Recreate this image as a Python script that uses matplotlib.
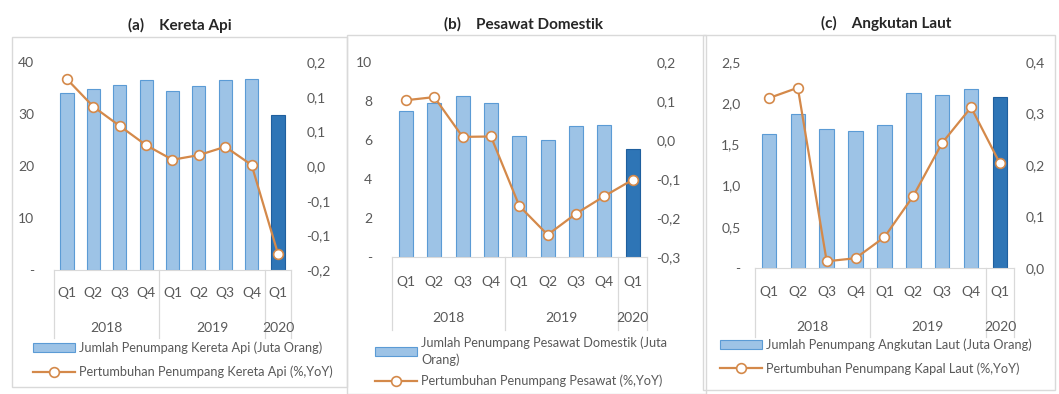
#!/usr/bin/env python
# coding: utf-8
'''
Jumlah dan pertumbuhan penumpang: kereta api, pesawat domestik, angkutan laut
'''

import numpy as np
import matplotlib
matplotlib.use('Agg')
import matplotlib.pyplot as plt
from matplotlib.patches import Rectangle
from matplotlib.ticker import FuncFormatter

#    data
quarters = ['Q1', 'Q2', 'Q3', 'Q4', 'Q1', 'Q2', 'Q3', 'Q4', 'Q1']
years = ['2018', '2019', '2020']
year_centers = [1.5, 5.5, 8.0]
year_breaks = [-0.5, 3.5, 7.5, 8.5]

kereta_penumpang = [34.1, 34.9, 35.6, 36.5, 34.5, 35.4, 36.5, 36.7, 29.9]
kereta_tumbuh = [0.167, 0.114, 0.077, 0.040, 0.012, 0.021, 0.037, 0.002, -0.169]

pesawat_penumpang = [7.47, 7.9, 8.24, 7.9, 6.2, 6.02, 6.7, 6.75, 5.56]
pesawat_tumbuh = [0.102, 0.110, 0.008, 0.009, -0.169, -0.243, -0.189, -0.144, -0.102]

laut_penumpang = [1.63, 1.87, 1.69, 1.66, 1.73, 2.12, 2.10, 2.17, 2.08]
laut_tumbuh = [0.330, 0.350, 0.013, 0.019, 0.060, 0.140, 0.243, 0.312, 0.203]

W, H = 1059, 394
GRAY = '#595959'
LIGHT = '#d9d9d9'
BLUE = '#9dc3e6'
BLUE_EDGE = '#5b9bd5'
DARK = '#2e75b6'
ORANGE = '#d4894a'

plt.rcParams['font.family'] = ['Lato', 'DejaVu Sans']


def fmt_right(v, pos):
    s = '{:.1f}'.format(v + 0.0)
    if s == '-0.0':
        s = '0.0'
    return s.replace('.', ',')


def px_axes(fig, left, right, top, bottom):
    return fig.add_axes([left / W, 1 - bottom / H, (right - left) / W, (bottom - top) / H])


def panel(fig, box, frame, title, title_xy, values, growth, ylim, yticks, left_fmt,
          rlim, rticks, pads, offs, legend_xy, labels, spacing):
    left, right, top, bottom = box
    ax = px_axes(fig, left, right, top, bottom)
    h = bottom - top

    #    outer frame of the panel
    fx0, fx1, fy0, fy1 = frame
    fig.patches.append(Rectangle((fx0 / W, 1 - fy1 / H), (fx1 - fx0) / W, (fy1 - fy0) / H,
                                 transform=fig.transFigure, fill=False,
                                 edgecolor=LIGHT, linewidth=1.0))
    fig.text(title_xy[0] / W, 1 - title_xy[1] / H, title, ha='center', va='center',
             fontsize=11, fontweight='bold', color='#262626')

    x = np.arange(len(values))
    colors = [BLUE] * (len(values) - 1) + [DARK]
    edges = [BLUE_EDGE] * (len(values) - 1) + ['#1f5f9e']
    bars = ax.bar(x, values, width=0.5, color=colors, edgecolor=edges, linewidth=0.8, zorder=2)

    ax.set_xlim(-0.5, len(values) - 0.5)
    ax.set_ylim(*ylim)
    ax.set_yticks(yticks)
    ax.yaxis.set_major_formatter(FuncFormatter(left_fmt))
    ax.set_xticks([])
    for s in ['top', 'right', 'left']:
        ax.spines[s].set_visible(False)
    ax.spines['bottom'].set_color(LIGHT)
    ax.tick_params(axis='y', length=0, labelsize=10, labelcolor=GRAY, pad=pads[0])

    #    multi level category axis
    q_off, y_off, line_off = offs
    for i, q in enumerate(quarters):
        ax.annotate(q, xy=(i, 0), xycoords=('data', 'axes fraction'), xytext=(0, -q_off),
                    textcoords='offset pixels', ha='center', va='center',
                    fontsize=10, color=GRAY)
    for yc, yr in zip(year_centers, years):
        ax.annotate(yr, xy=(yc, 0), xycoords=('data', 'axes fraction'), xytext=(0, -y_off),
                    textcoords='offset pixels', ha='center', va='center',
                    fontsize=10, color=GRAY)
    for xb in year_breaks:
        ax.plot([xb, xb], [0, -line_off / h], transform=ax.get_xaxis_transform(),
                color=LIGHT, linewidth=0.9, clip_on=False)

    ax2 = ax.twinx()
    line, = ax2.plot(x, growth, color=ORANGE, linewidth=1.6, marker='o', markersize=7,
                     markerfacecolor='white', markeredgecolor=ORANGE, markeredgewidth=1.2,
                     zorder=3)
    ax2.set_ylim(*rlim)
    ax2.set_yticks(rticks)
    ax2.yaxis.set_major_formatter(FuncFormatter(fmt_right))
    for s in ax2.spines.values():
        s.set_visible(False)
    ax2.tick_params(axis='y', length=0, labelsize=10, labelcolor=GRAY, pad=pads[1])

    leg = fig.legend([bars, line], labels, loc='upper left',
                     bbox_to_anchor=(legend_xy[0] / W, 1 - legend_xy[1] / H),
                     bbox_transform=fig.transFigure, frameon=False, fontsize=9.2,
                     handlelength=3.3, handletextpad=0.3, labelspacing=spacing,
                     borderpad=0, borderaxespad=0)
    for t in leg.get_texts():
        t.set_color(GRAY)
        t.set_linespacing(1.45)
    return ax, ax2


def main():
    fig = plt.figure(figsize=(W / 100, H / 100), dpi=100)

    panel(fig, (53.8, 291.2, 62, 270), (12, 347, 37, 387), '(a)    Kereta Api', (180, 25),
          kereta_penumpang, kereta_tumbuh, (0, 40), [0, 10, 20, 30, 40],
          lambda v, p: '-' if v == 0 else '{:.0f}'.format(v),
          (-0.2, 0.2), np.linspace(-0.2, 0.2, 7), (14, 11), (23, 58, 68), (33, 341),
          ['Jumlah Penumpang Kereta Api (Juta Orang)',
           'Pertumbuhan Penumpang Kereta Api (%,YoY)'], 0.95)

    panel(fig, (391.8, 646.8, 62, 257), (347, 706, 35, 394), '(b)    Pesawat Domestik', (524, 24),
          pesawat_penumpang, pesawat_tumbuh, (0, 10), [0, 2, 4, 6, 8, 10],
          lambda v, p: '-' if v == 0 else '{:.0f}'.format(v),
          (-0.3, 0.2), np.linspace(-0.3, 0.2, 6), (14, 7), (25, 61, 73), (375, 336),
          ['Jumlah Penumpang Pesawat Domestik (Juta\nOrang)',
           'Pertumbuhan Penumpang Pesawat (%,YoY)'], 0.7)

    panel(fig, (754.5, 1014.4, 62, 268), (703, 1055, 35, 390), '(c)    Angkutan Laut', (886, 23),
          laut_penumpang, laut_tumbuh, (0, 2.5), [0, 0.5, 1.0, 1.5, 2.0, 2.5],
          lambda v, p: '-' if v == 0 else '{:.1f}'.format(v).replace('.', ','),
          (0, 0.4), np.linspace(0, 0.4, 5), (10, 8), (24, 59, 69), (720, 338),
          ['Jumlah Penumpang Angkutan Laut (Juta Orang)',
           'Pertumbuhan Penumpang Kapal Laut (%,YoY)'], 0.9)

    fig.savefig('out.png', dpi=100)
    print('out.png saved.')


if __name__ == "__main__":
    main()
